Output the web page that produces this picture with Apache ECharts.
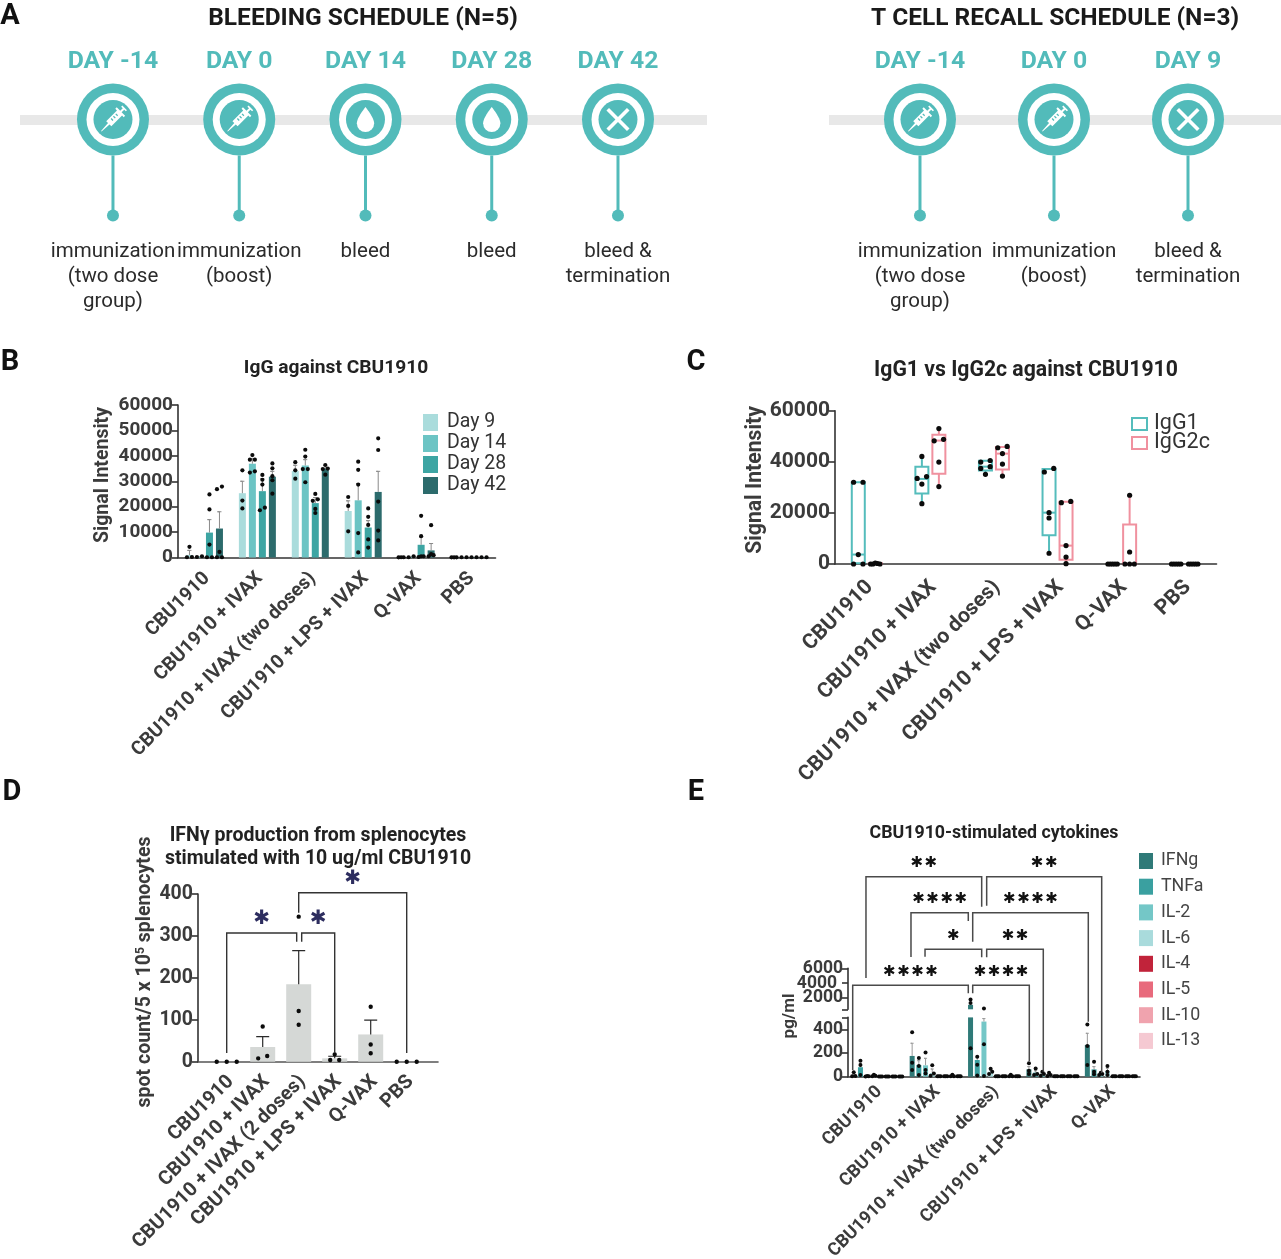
<!DOCTYPE html>
<html>
<head>
<meta charset="utf-8">
<style>html,body{margin:0;padding:0;background:#fff}#main{width:1281px;height:1259px}</style>
<script src="https://cdn.jsdelivr.net/npm/echarts@6/dist/echarts.min.js"></script>
</head>
<body>
<div id="main"></div>
<script>
// panel A
var bleedDays = [-14, 0, 14, 28, 42];
var bleedNotes = ["immunization\n(two dose\ngroup)", "immunization\n(boost)", "bleed", "bleed", "bleed &\ntermination"];
var bleedIcons = ["syringe", "syringe", "drop", "drop", "cross"];
var recallDays = ["DAY -14", "DAY 0", "DAY 9"];
var recallNotes = ["immunization\n(two dose\ngroup)", "immunization\n(boost)", "bleed &\ntermination"];
var recallIcons = ["syringe", "syringe", "cross"];

// panel B
var groupsB = ["CBU1910", "CBU1910 + IVAX", "CBU1910 + IVAX (two doses)", "CBU1910 + LPS + IVAX", "Q-VAX", "PBS"];
var namesB = ["Day 9", "Day 14", "Day 28", "Day 42"];
var meanDay9 = [1000, 25300, 34000, 18300, 100, 100];
var meanDay14 = [400, 36900, 36200, 22500, 300, 200];
var meanDay28 = [9800, 26100, 21400, 11800, 5000, 200];
var meanDay42 = [11400, 31800, 35000, 25800, 2800, 100];
var errDay9 = [2800, 30000, 36300, 22300, null, null];
var errDay14 = [null, 38900, 38500, 29100, null, null];
var errDay28 = [14900, 31000, 23600, 14500, 8100, null];
var errDay42 = [18000, 33900, 36200, 33900, 5500, null];
var dotsDay9 = [[4200, 200, 100], [34300, 22400, 19300], [37500, 34300, 31000], [23800, 20300, 10300], [100, 100, 50], [50, 50, 50]];
var dotsDay14 = [[500, 200], [40300, 38500, 38500, 33900, 33400], [42400, 39700, 34800, 34800, 29600], [37700, 34500, 28700, 9600, 2000], [500, 100], [100, 100]];
var dotsDay28 = [[24800, 18900, 5100, 100, 100], [32500, 30600, 28700, 19600, 18600], [25000, 22900, 22300, 19100, 17500], [19300, 16000, 12800, 7100, 3900], [16400, 8400, 500, 500, 200], [100, 100]];
var dotsDay42 = [[27900, 26900, 2200, 100, 100], [37000, 35100, 32000, 30400, 25100], [36400, 35000, 34800, 32600], [46900, 42300, 22000, 10600, 6700], [12700, 1300, 900, 500], [100, 100]];

// panel C
var groupsC = groupsB;
var boxIgG1 = [[0, 300, 3700, 32000, 32000], [23600, 27600, 33300, 38100, 42100], [35100, 36600, 38100, 40400, 40500], [4200, 11300, 20100, 37200, 37400], [0, 0, 0, 0, 0], [0, 0, 0, 0, 0]];
var boxIgG2c = [[0, 0, 100, 300, 400], [30300, 35300, 48300, 50600, 53000], [34400, 37000, 43200, 45800, 46000], [130, 1700, 7200, 24400, 24500], [0, 0, 0, 15500, 26900], [0, 0, 0, 0, 0]];
var dotsIgG1 = [[32000, 32000, 3700, 0, 0], [42100, 34200, 33500, 31300, 23600], [40500, 39900, 38100, 37400, 35100], [37400, 36000, 20100, 18000, 4200], [0, 0, 0, 0, 0], [0, 0, 0, 0, 0]];
var dotsIgG2c = [[400, 200, 0, 0, 0], [53000, 48800, 48200, 39900, 30300], [46000, 45500, 43200, 39100, 34400], [24500, 24000, 7200, 2700, 130], [26900, 4700, 0, 0, 0], [0, 0, 0, 0, 0]];

// panel D
var groupsD = ["CBU1910", "CBU1910 + IVAX", "CBU1910 + IVAX (2 doses)", "CBU1910 + LPS + IVAX", "Q-VAX", "PBS"];
var meanSpots = [0, 35, 185, 8, 65, 0];
var errSpots = [null, 60, 265, 13, 99, null];
var dotsSpots = [[0, 0, 0], [84, 13.5, 8], [346, 121, 88], [17.5, 4, 4], [131, 41, 20], [0, 0, 0]];
var bracketsD = [[0, 1.944, 307, 21, 286], [2.083, 3, 307, 286, 21], [2, 5, 403, 355, 21]];
var starsD = ["✱", "✱", "✱"];

// panel E
var groupsE = ["CBU1910", "CBU1910 + IVAX", "CBU1910 + IVAX (two doses)", "CBU1910 + LPS + IVAX", "Q-VAX"];
var namesE = ["IFNg", "TNFa", "IL-2", "IL-6", "IL-4", "IL-5", "IL-10", "IL-13"];
var meanIFNg = [14, 175, 1100, 62, 268];
var meanTNFa = [80, 99, 141, 35, 62];
var meanIL2 = [3, 96, 465, 25, 25];
var meanIL6 = [9, 31, 43, 18, 48];
var meanIL4 = [2, 3, 3, 3, 3];
var meanIL5 = [2, 3, 3, 3, 3];
var meanIL10 = [2, 6, 6, 3, 3];
var meanIL13 = [2, 3, 3, 3, 3];
var errIFNg = [20, 282, null, 85, 366];
var errTNFa = [110, 135, 165, 50, 85];
var errIL2 = [null, 155, 490, 32, 30];
var errIL6 = [12, 65, 58, 25, 72];
var dotsIFNg = [[37, 6, 3], [375, 118, 56], [1830, 1330, 240], [113, 51, 22], [440, 259, 99]];
var dotsTNFa = [[135, 99, 14], [158, 90, 14], [169, 101, 10], [70, 23, 14], [127, 42, 20]];
var dotsIL2 = [[5, 3, 2], [203, 56, 28], [620, 274, 5], [42, 22, 8], [34, 22, 14]];
var dotsIL6 = [[17, 8, 3], [96, 28, 8], [68, 42, 22], [34, 14, 5], [90, 42, 14]];
var dotsIL4 = [[2, 2, 2], [3, 3, 3], [3, 3, 3], [3, 3, 3], [3, 3, 3]];
var dotsIL5 = [[2, 2, 2], [3, 3, 3], [3, 3, 3], [3, 3, 3], [3, 3, 3]];
var dotsIL10 = [[2, 2, 2], [17, 3, 3], [17, 3, 3], [3, 3, 3], [3, 3, 3]];
var dotsIL13 = [[2, 2, 2], [3, 3, 3], [3, 3, 3], [3, 3, 3], [3, 3, 3]];
var bracketsE = [
	[-0.19, 1.805, 200, 98.7, 170], [1.891, 3.874, 200, 171, 3.7],
	[0.586, 1.574, 164, 119.7, 155.7], [1.65, 3.643, 164, 135, 55],
	[0.828, 1.805, 127.4, 120, 119.4], [1.891, 2.867, 127.4, 119.4, 5],
	[-0.419, 1.574, 91.4, 6.7, 83.4], [1.65, 2.626, 91.4, 83.4, 15.7]
];
var starsE = ["✱\u200a✱", "✱\u200a✱", "✱\u200a✱\u200a✱\u200a✱", "✱\u200a✱\u200a✱\u200a✱", "✱", "✱\u200a✱", "✱\u200a✱\u200a✱\u200a✱", "✱\u200a✱\u200a✱\u200a✱"];

var FONT = "Roboto";
var TEAL = "#52bbba";
var AXIS = "#333333";
var TEXT = "#3b3b3b";
var colorsB = ["#aadcdc", "#6cc4c4", "#3da5a3", "#2c6b6c"];
var colorsE = ["#2f7a78", "#3aa0a0", "#74c7c7", "#a9dbdc", "#c1233a", "#e86a7c", "#f0a3ae", "#f5c9d2"];
var colorIgG1 = "#55bdbc", colorIgG2c = "#f0919f";

var ICONS = {
	syringe: {
		path: "path://M7 0H17V2.5H13.5V8H21V11H17.5V34H13.6L12.5 50H11.5L10.4 34H6.5V11H3V8H10.5V2.5H7ZM9 15V17H13V15ZM9 20V22H13V20ZM9 25V27H13V25Z",
		size: 33, rotate: -45
	},
	drop: { path: "path://M12 0C12 0 3 11 3 17A9 9 0 0 0 21 17C21 11 12 0 12 0Z", size: 25, rotate: 0 },
	cross: { path: "path://M10.5 0H13.5V10.5H24V13.5H13.5V24H10.5V13.5H0V10.5H10.5Z", size: 29, rotate: 45 }
};

var grids = [], xAxes = [], yAxes = [], series = [], graphics = [];

function addGrid(g, x, y) {
	var idx = grids.length;
	g.outerBoundsMode = "none";
	grids.push(g);
	x.gridIndex = idx;
	y.gridIndex = idx;
	xAxes.push(x);
	yAxes.push(y);
	return idx;
}

function addText(text, x, y, size, weight, color, rotation) {
	graphics.push({
		type: "text", x: x, y: y, rotation: rotation || 0, silent: true,
		style: { text: text, fill: color, font: weight + " " + size + "px " + FONT, align: "center", verticalAlign: "middle" }
	});
}

function hiddenAxis(min, max) {
	return { type: "value", min: min, max: max, show: false, splitLine: { show: false } };
}

function catAxis(labels, fontSize, margin, slide) {
	return {
		type: "category", data: labels,
		axisLine: { lineStyle: { color: AXIS, width: 1.6 } },
		axisTick: { alignWithLabel: true, length: 5, lineStyle: { color: AXIS, width: 1.6 } },
		axisLabel: {
			rotate: 45, interval: 0, margin: margin, padding: [0, -slide, 0, 0],
			color: TEXT, fontFamily: FONT, fontWeight: "bold", fontSize: fontSize
		},
		splitLine: { show: false }
	};
}

function valAxis(max, interval, fontSize) {
	return {
		type: "value", min: 0, max: max, interval: interval,
		axisLine: { show: true, onZero: false, lineStyle: { color: AXIS, width: 1.6 } },
		axisTick: { show: true, length: 6, lineStyle: { color: AXIS, width: 1.6 } },
		axisLabel: {
			margin: 5, color: TEXT, fontFamily: FONT, fontWeight: "bold", fontSize: fontSize,
			showMinLabel: true, showMaxLabel: true,
			formatter: function (v) { return String(v); }
		},
		splitLine: { show: false }
	};
}

function timeline(left, width, min, max, xs, dayLabels, notes, icons) {
	var idx = addGrid(
		{ left: left, width: width, top: 0, height: 320 },
		{
			type: "value", min: min, max: max, splitLine: { show: false },
			axisLine: { show: true, onZero: true, lineStyle: { color: "#e8e8e8", width: 10, cap: "butt" } },
			axisTick: { show: false }, axisLabel: { show: false }
		},
		{ type: "value", min: -119.5, max: 200.5, inverse: true, show: false, splitLine: { show: false } }
	);
	var base = { xAxisIndex: idx, yAxisIndex: idx, silent: true };
	var rings = [], dots = [], marks = [], stems = [];
	for (var i = 0; i < xs.length; i++) {
		var ic = ICONS[icons[i]];
		rings.push({ value: [xs[i], 0], label: { formatter: dayLabels[i] } });
		dots.push({ value: [xs[i], 96], label: { formatter: notes[i] } });
		stems.push([xs[i], 36, 96]);
		marks.push({ value: [xs[i], 0], symbol: ic.path, symbolSize: ic.size, symbolRotate: ic.rotate });
	}
	series.push(Object.assign({}, base, {
		type: "custom", data: stems, z: 2,
		renderItem: function (params, api) {
			var a = api.coord([api.value(0), api.value(1)]);
			var b = api.coord([api.value(0), api.value(2)]);
			return { type: "line", shape: { x1: a[0], y1: a[1], x2: b[0], y2: b[1] }, style: { stroke: TEAL, lineWidth: 3 } };
		}
	}));
	series.push(Object.assign({}, base, {
		type: "scatter", data: rings, symbolSize: 72, z: 3, itemStyle: { color: TEAL, opacity: 1 },
		label: { show: true, position: "top", distance: 9, color: TEAL, fontFamily: FONT, fontWeight: "bold", fontSize: 24.8 }
	}));
	series.push(Object.assign({}, base, {
		type: "scatter", data: rings.map(function (r) { return r.value; }), symbolSize: 53, z: 4, itemStyle: { color: "#fff", opacity: 1 }
	}));
	series.push(Object.assign({}, base, {
		type: "scatter", data: rings.map(function (r) { return r.value; }), symbolSize: 39, z: 5, itemStyle: { color: TEAL, opacity: 1 }
	}));
	series.push(Object.assign({}, base, {
		type: "scatter", data: marks, symbolKeepAspect: true, z: 6, itemStyle: { color: "#fff", opacity: 1 }
	}));
	series.push(Object.assign({}, base, {
		type: "scatter", data: dots, symbolSize: 12, z: 3, itemStyle: { color: TEAL, opacity: 1 },
		label: { show: true, position: "bottom", distance: 17.5, color: "#2b2b2b", fontFamily: FONT, fontSize: 20.5, lineHeight: 25, align: "center" }
	}));
}

// spreads points that would overlap sideways, like the swarm of a dot plot
function swarm(vals, pxPerUnit, thr, hw, hwTie) {
	var s = vals.slice().sort(function (a, b) { return a - b; });
	var out = [], start = 0;
	for (var i = 1; i <= s.length; i++) {
		if (i == s.length || (s[i] - s[i - 1]) * pxPerUnit >= thr) {
			var n = i - start;
			var w = (n > 1 && s[start] == s[i - 1] && hwTie) ? hwTie : hw;
			var offs = [];
			for (var j = 0; j < n; j++) {
				offs.push(n == 1 ? 0 : -w + j * 2 * w / (n - 1));
			}
			if (n % 2 == 1 && n > 1) {
				var mid = (n - 1) / 2, t = offs[mid];
				offs[mid] = offs[n - 1];
				offs[n - 1] = t;
			}
			for (j = 0; j < n; j++) {
				out.push([s[start + j], offs[j]]);
			}
			start = i;
		}
	}
	return out;
}

function dotRows(perCat, shift, pxPerUnit, thr, hw, hwTie) {
	var rows = [];
	for (var c = 0; c < perCat.length; c++) {
		var sw = swarm(perCat[c], pxPerUnit, thr, hw, hwTie);
		for (var k = 0; k < sw.length; k++) {
			rows.push([c, sw[k][0], sw[k][1] + shift]);
		}
	}
	return rows;
}

function addDots(idx, rows, r, z) {
	series.push({
		type: "custom", xAxisIndex: idx, yAxisIndex: idx, data: rows, silent: true, z: z || 6,
		renderItem: function (params, api) {
			var p = api.coord([api.value(0), api.value(1)]);
			return { type: "circle", shape: { cx: p[0] + api.value(2), cy: p[1], r: r }, style: { fill: "#0b0b0b" } };
		}
	});
}

function addErrs(idx, means, tops, shift, cap, color, width) {
	var rows = [];
	for (var c = 0; c < means.length; c++) {
		if (tops[c] != null) rows.push([c, means[c], tops[c]]);
	}
	series.push({
		type: "custom", xAxisIndex: idx, yAxisIndex: idx, data: rows, silent: true, z: 4,
		renderItem: function (params, api) {
			var a = api.coord([api.value(0), api.value(1)]);
			var b = api.coord([api.value(0), api.value(2)]);
			var x = a[0] + shift;
			return {
				type: "polyline",
				shape: { points: [[x, a[1]], [x, b[1]], [x - cap, b[1]], [x + cap, b[1]]] },
				style: { stroke: color, lineWidth: width, fill: "none" }
			};
		}
	});
}

function addBars(idx, name, values, color, w, step, z) {
	series.push({
		type: "bar", name: name, xAxisIndex: idx, yAxisIndex: idx, data: values, silent: true, z: z || 2,
		barWidth: w, barGap: ((step - w) / w * 100) + "%", itemStyle: { color: color }, clip: true
	});
}

function addBrackets(idx, rows, stars, color, lw, starSize, starColor, lift) {
	series.push({
		type: "custom", xAxisIndex: idx, yAxisIndex: idx, data: rows, silent: true, z: 7,
		renderItem: function (params, api) {
			var v = [0, 1, 2, 3, 4].map(function (d) { return api.value(d); });
			var tl = api.coord([v[0], v[2]]), tr = api.coord([v[1], v[2]]);
			var bl = api.coord([v[0], v[3]]), br = api.coord([v[1], v[4]]);
			return {
				type: "group",
				children: [
					{ type: "polyline", shape: { points: [bl, tl, tr, br] }, style: { stroke: color, lineWidth: lw, fill: "none" } },
					{
						type: "text", x: (tl[0] + tr[0]) / 2, y: tl[1] - lift,
						style: { text: stars[params.dataIndex], fill: starColor, font: "bold " + starSize + "px 'DejaVu Sans'", align: "center", verticalAlign: "middle" }
					}
				]
			};
		}
	});
}

// ---------- A
addText("A", 10, 17, 29, "bold", "#111");
addText("BLEEDING SCHEDULE (N=5)", 363, 19, 24.5, "bold", "#1a1a1a");
addText("T CELL RECALL SCHEDULE (N=3)", 1055, 19, 24.5, "bold", "#1a1a1a");
timeline(20, 687, -24.31, 51.87, bleedDays, bleedDays.map(function (d) { return "DAY " + d; }), bleedNotes, bleedIcons);
timeline(829, 452, -0.679, 2.694, [0, 1, 2], recallDays, recallNotes, recallIcons);

// ---------- B
addText("B", 10, 363, 29, "bold", "#111");
addText("IgG against CBU1910", 336, 368, 19.2, "bold", "#222");
addText("Signal Intensity", 103, 475, 19.5, "bold", TEXT, Math.PI / 2);
var gB = addGrid({ left: 178, top: 405, width: 317.5, height: 152.5 }, catAxis(groupsB, 19.3, 20.5, 3.5), valAxis(60000, 10000, 19));
var meansB = [meanDay9, meanDay14, meanDay28, meanDay42];
var errsB = [errDay9, errDay14, errDay28, errDay42];
var dotsB = [dotsDay9, dotsDay14, dotsDay28, dotsDay42];
for (var i = 0; i < 4; i++) {
	var sB = (i - 1.5) * 10;
	addBars(gB, namesB[i], meansB[i], colorsB[i], 7, 10);
	addErrs(gB, meansB[i], errsB[i], sB, 2, "#8a8a8a", 1);
	addDots(gB, dotRows(dotsB[i], sB, 152.5 / 60000, 3.6, 2.5), 2.1);
}

// ---------- C
addText("C", 696, 363, 29, "bold", "#111");
addText("IgG1 vs IgG2c against CBU1910", 1026, 371, 21.2, "bold", "#222");
addText("Signal Intensity", 756, 480, 21.2, "bold", TEXT, Math.PI / 2);
var gC = addGrid({ left: 835, top: 410.7, width: 381.5, height: 153.3 }, catAxis(groupsC, 21.1, 23, 4.2), valAxis(60000, 20000, 21));
function addBoxes(idx, name, rows, shift, color) {
	series.push({
		type: "custom", name: name, xAxisIndex: idx, yAxisIndex: idx, silent: true, z: 3,
		data: rows.map(function (r, c) { return [c].concat(r); }),
		itemStyle: { color: "#fff", borderColor: color, borderWidth: 2 },
		renderItem: function (params, api) {
			var c = api.value(0);
			var y = [1, 2, 3, 4, 5].map(function (d) { return api.coord([c, api.value(d)])[1]; });
			var x = api.coord([c, 0])[0] + shift;
			var st = { stroke: color, lineWidth: 2, fill: "none" };
			return {
				type: "group",
				children: [
					{ type: "line", shape: { x1: x, y1: y[0], x2: x, y2: y[1] }, style: st },
					{ type: "line", shape: { x1: x, y1: y[3], x2: x, y2: y[4] }, style: st },
					{ type: "rect", shape: { x: x - 6.5, y: y[3], width: 13, height: y[1] - y[3] }, style: st },
					{ type: "line", shape: { x1: x - 6.5, y1: y[2], x2: x + 6.5, y2: y[2] }, style: st }
				]
			};
		}
	});
}
addBoxes(gC, "IgG1", boxIgG1, -8.5, colorIgG1);
addBoxes(gC, "IgG2c", boxIgG2c, 8.5, colorIgG2c);
addDots(gC, dotRows(dotsIgG1, -8.5, 153.3 / 60000, 4.5, 4.7), 2.6);
addDots(gC, dotRows(dotsIgG2c, 8.5, 153.3 / 60000, 4.5, 4.7), 2.6);

// ---------- D
addText("D", 12, 793, 29, "bold", "#111");
addText("IFNγ production from splenocytes", 318, 836, 19.5, "bold", "#222");
addText("stimulated with 10 ug/ml CBU1910", 318, 859, 19.5, "bold", "#222");
graphics.push({
	type: "text", x: 145, y: 972, rotation: Math.PI / 2, silent: true,
	style: {
		text: "{a|spot count/5 x 10}{s|5}{a| splenocytes}", align: "center", verticalAlign: "middle",
		rich: {
			a: { fontFamily: FONT, fontWeight: "bold", fontSize: 19.5, fill: TEXT, color: TEXT },
			s: { fontFamily: FONT, fontWeight: "bold", fontSize: 12, fill: TEXT, color: TEXT, padding: [0, 0, 9, 0] }
		}
	}
});
addGrid(
	{ left: 198, top: 894, width: 240, height: 167.7 },
	{ type: "value", min: 0, max: 1, axisLine: { show: true, lineStyle: { color: "#555", width: 1.6 } }, axisTick: { show: false }, axisLabel: { show: false }, splitLine: { show: false } },
	hiddenAxis(0, 400)
);
var yD = valAxis(400, 100, 19.5);
yD.offset = 10.7;
var xD = catAxis(groupsD, 19.7, 21, 5.6);
xD.axisLine.show = false;
var gD = addGrid({ left: 208.7, top: 894, width: 216, height: 167.7 }, xD, yD);
addBars(gD, "spots", meanSpots, "#d5d8d6", 25, 36);
addErrs(gD, meanSpots, errSpots, 0, 6.5, "#2a2a2a", 1.2);
addDots(gD, dotRows(dotsSpots, 0, 167.7 / 400, 6, 4.5, 10), 2.2);
var ovD = addGrid({ left: 208.7, top: 894, width: 216, height: 167.7 }, hiddenAxis(-0.5, 5.5), hiddenAxis(0, 400));
addBrackets(ovD, bracketsD, starsD, "#333", 1.4, 20, "#2d2d5f", 14);

// ---------- E
addText("E", 696, 793, 29, "bold", "#111");
addText("CBU1910-stimulated cytokines", 994, 834, 17.8, "bold", "#222");
addText("pg/ml", 790, 1016, 17, "bold", TEXT, Math.PI / 2);
var yLow = valAxis(500, 100, 17.5);
yLow.axisTick.customValues = [0, 200, 400, 500];
yLow.axisLabel.customValues = [0, 200, 400];
var xLow = catAxis(groupsE, 17.9, 14.5, 3);
var gLow = addGrid({ left: 848, top: 1017.4, width: 292, height: 59.3 }, xLow, yLow);
var yUp = valAxis(6000, 2000, 17.5);
yUp.min = 500;
delete yUp.interval;
yUp.axisTick.customValues = [500, 2000, 4000, 6000];
yUp.axisLabel.customValues = [2000, 6000];
var xUp = { type: "category", data: groupsE, show: false };
var gUp = addGrid({ left: 848, top: 968.3, width: 292, height: 41 }, xUp, yUp);
// the 4000 label gets dropped as overlapping its neighbours, so it sits on its own axis
var yUpMid = valAxis(6000, 2000, 17.5);
yUpMid.min = 500;
delete yUpMid.interval;
yUpMid.axisLine.show = false;
yUpMid.axisTick.show = false;
yUpMid.axisLabel.margin = 11;
yUpMid.axisLabel.customValues = [4000];
addGrid({ left: 848, top: 968.3, width: 292, height: 41 }, { type: "category", data: groupsE, show: false }, yUpMid);
var meansE = [meanIFNg, meanTNFa, meanIL2, meanIL6, meanIL4, meanIL5, meanIL10, meanIL13];
var errsE = [errIFNg, errTNFa, errIL2, errIL6, [null, null, null, null, null], [null, null, null, null, null], [null, null, null, null, null], [null, null, null, null, null]];
var dotsE = [dotsIFNg, dotsTNFa, dotsIL2, dotsIL6, dotsIL4, dotsIL5, dotsIL10, dotsIL13];
for (i = 0; i < 8; i++) {
	var sE = (i - 3.5) * 6.7;
	addBars(gLow, namesE[i], meansE[i], colorsE[i], 5, 6.7);
	addBars(gUp, namesE[i], meansE[i].map(function (v) { return v > 500 ? v : null; }), colorsE[i], 5, 6.7);
	addErrs(gLow, meansE[i], errsE[i], sE, 1.5, "#9a9a9a", 1);
	var rowsE = dotRows(dotsE[i], sE, 0.1185, 2.6, 1.6);
	addDots(gLow, rowsE.filter(function (r) { return r[1] <= 500; }), 2);
	addDots(gUp, rowsE.filter(function (r) { return r[1] > 500; }), 2);
}
var ovE = addGrid({ left: 848, top: 840, width: 290, height: 236.7 }, hiddenAxis(-0.5, 4.5), hiddenAxis(0, 236.7));
addBrackets(ovE, bracketsE, starsE, "#4a4a4a", 1.5, 15, "#111", 13.6);

var legendBase = { orient: "vertical", icon: "rect", selectedMode: false, padding: 0, itemStyle: { borderWidth: 0 } };
var myChart = echarts.init(document.getElementById("main"), null, { renderer: "canvas" });
myChart.setOption({
	animation: false,
	backgroundColor: "#fff",
	textStyle: { fontFamily: FONT },
	grid: grids,
	xAxis: xAxes,
	yAxis: yAxes,
	series: series,
	graphic: graphics,
	legend: [
		Object.assign({}, legendBase, {
			data: namesB, left: 423, top: 412, itemWidth: 15, itemHeight: 17, itemGap: 0,
			textStyle: { fontSize: 19.5, color: "#333", fontFamily: FONT, lineHeight: 21, padding: [0, 0, 0, 4] }
		}),
		{
			orient: "vertical", selectedMode: false, padding: 0, left: 1131, top: 413, itemWidth: 15, itemHeight: 12, itemGap: -3,
			data: [
				{ name: "IgG1", icon: "rect", itemStyle: { color: "#fff", borderColor: colorIgG1, borderWidth: 2 } },
				{ name: "IgG2c", icon: "rect", itemStyle: { color: "#fff", borderColor: colorIgG2c, borderWidth: 2 } }
			],
			textStyle: { fontSize: 21.5, color: "#333", fontFamily: FONT, lineHeight: 21, padding: [0, 0, 0, 2] }
		},
		Object.assign({}, legendBase, {
			data: namesE, left: 1139, top: 852, itemWidth: 14, itemHeight: 16, itemGap: 7.7,
			textStyle: { fontSize: 17.8, color: "#444", fontFamily: FONT, lineHeight: 18, padding: [0, 0, 0, 3] }
		})
	]
});
</script>
</body>
</html>
